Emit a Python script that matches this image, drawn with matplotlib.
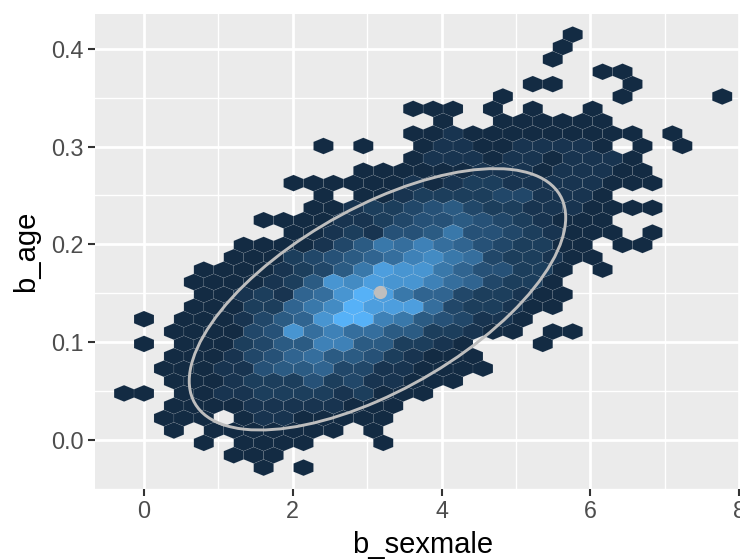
#!/usr/bin/env python3
"""Hexbin of b_age against b_sexmale, with an ellipse and a point on top."""

import matplotlib
matplotlib.use("Agg")
import matplotlib.pyplot as plt
import numpy as np
from matplotlib.colors import LinearSegmentedColormap
from matplotlib.patches import Ellipse
from matplotlib.transforms import Affine2D

plt.rcParams["font.family"] = ["Liberation Sans", "DejaVu Sans"]

# hex grid: column pitch in b_sexmale, row pitch in b_age
HEX_DX = 0.268
ROW_DY = 0.012665
TOP_ROW_AGE = 0.41465

# one entry per hex row, top to bottom: first column, then counts (0 = no hex)
first_col = [21, 21, 20, 23, 19, 18, 13, 15, 13, 9, 13, 11, 7, 9, 8, 6, 7, 5,
             4, 3, 2, 3, 2, 0, 1, 0, 1, 1, 1, -1, 1, 1, 1, 3, 4, 6]
row_counts = [
    [1],
    [1],
    [1],
    [1, 1],
    [1, 1, 0, 0, 0, 1],
    [1, 0, 0, 0, 0, 0, 1, 0, 0, 0, 0, 1],
    [1, 1, 1, 0, 1, 0, 1, 0, 0, 1],
    [1, 0, 0, 1, 1, 1, 1, 1, 1],
    [1, 1, 2, 1, 1, 1, 1, 1, 1, 1, 1, 1, 0, 1],
    [1, 0, 1, 0, 0, 1, 2, 2, 1, 1, 2, 2, 2, 2, 1, 0, 1, 0, 1],
    [1, 2, 2, 2, 1, 2, 2, 1, 2, 2, 2, 1],
    [1, 1, 1, 1, 1, 1, 2, 2, 2, 1, 2, 2, 2, 1, 1],
    [1, 1, 1, 1, 1, 1, 2, 1, 2, 3, 3, 2, 2, 2, 2, 2, 1, 1, 1],
    [1, 0, 1, 1, 2, 3, 3, 3, 3, 4, 4, 2, 2, 2, 1],
    [1, 1, 2, 3, 3, 4, 5, 6, 4, 3, 3, 2, 2, 2, 1, 1, 1, 1],
    [1, 1, 1, 1, 2, 2, 3, 4, 5, 5, 6, 5, 4, 3, 2, 1, 1, 1],
    [1, 1, 2, 3, 2, 5, 5, 6, 9, 5, 5, 4, 3, 2, 1, 1, 1, 0, 1],
    [1, 1, 1, 1, 2, 4, 6, 9, 8, 10, 8, 7, 5, 4, 3, 3, 1, 1, 0, 1, 1],
    [1, 1, 1, 3, 4, 5, 6, 7, 8, 10, 11, 9, 8, 4, 3, 3, 2, 1, 1],
    [1, 1, 1, 1, 2, 3, 4, 6, 9, 13, 12, 12, 9, 7, 5, 5, 3, 3, 1, 0, 1],
    [1, 1, 1, 1, 2, 3, 6, 12, 11, 13, 12, 12, 10, 8, 7, 4, 3, 3, 1],
    [1, 1, 2, 3, 2, 7, 8, 12, 19, 13, 9, 7, 7, 4, 3, 3, 2, 1, 1],
    [1, 1, 1, 3, 3, 7, 9, 11, 20, 13, 13, 13, 8, 4, 3, 3, 2, 1, 1],
    [1, 0, 1, 1, 1, 2, 4, 6, 7, 12, 16, 19, 10, 9, 6, 5, 4, 2, 2, 1],
    [1, 1, 1, 1, 4, 5, 12, 8, 10, 8, 8, 6, 6, 3, 3, 2, 1, 1, 0, 1, 1],
    [1, 0, 1, 1, 1, 3, 4, 6, 6, 10, 10, 6, 6, 3, 3, 2, 1, 0, 0, 0, 1],
    [1, 1, 1, 2, 4, 5, 7, 8, 6, 6, 5, 3, 2, 1, 1, 1],
    [1, 1, 1, 2, 2, 5, 6, 6, 7, 4, 4, 2, 2, 1, 1, 1, 1],
    [1, 1, 1, 2, 3, 3, 3, 5, 3, 4, 2, 2, 1, 1, 1],
    [1, 1, 0, 1, 1, 2, 2, 3, 3, 3, 3, 2, 3, 1, 1, 1],
    [1, 1, 1, 1, 2, 2, 2, 2, 2, 1, 1, 1],
    [1, 1, 1, 0, 1, 2, 2, 1, 1, 1, 1, 1],
    [1, 0, 1, 1, 1, 1, 1, 1, 1, 0, 1],
    [1, 0, 1, 1, 1, 1, 0, 0, 0, 1],
    [1, 1, 1],
    [1, 0, 1],
]

# ellipse summary and the point estimate
ellipse_center = (3.138, 0.1437)
ellipse_half_x = 2.53
ellipse_half_y = 0.1338
ellipse_rho = 0.625
point_x = [3.17]
point_y = [0.1512]

x_ticks = [0, 2, 4, 6, 8]
x_minor = [1, 3, 5, 7]
y_ticks = [0.0, 0.1, 0.2, 0.3, 0.4]
y_minor = [-0.05, 0.05, 0.15, 0.25, 0.35]
y_tick_labels = ["0.0", "0.1", "0.2", "0.3", "0.4"]

GREY = "#BEBEBE"
cmap = LinearSegmentedColormap.from_list("gg", ["#132B43", "#56B1F7"])

W, H = 740, 559
fig = plt.figure(figsize=(W / 100, H / 100), dpi=100)
ax = fig.add_axes([94.5 / W, (H - 489) / H, (741 - 94.5) / W, 475 / H])
ax.set_facecolor("#EBEBEB")
for s in ax.spines.values():
    s.set_visible(False)

# rows alternate: odd rows sit on the tick columns, even rows half a step over
xs, ys, cs = [], [], []
for n, (first, counts) in enumerate(zip(first_col, row_counts)):
    for k, c in enumerate(counts, start=first):
        if c:
            xs.append(HEX_DX * (k + (0.0 if n % 2 else 0.5)))
            ys.append(TOP_ROW_AGE - ROW_DY * n)
            cs.append(c)

nx, ny = 34, 20
sy = 2 * ROW_DY
x0 = -2 * HEX_DX
y0 = TOP_ROW_AGE - ROW_DY * 35 - sy
ax.hexbin(xs, ys, C=cs, gridsize=(nx, ny), reduce_C_function=np.sum,
          extent=(x0, x0 + nx * HEX_DX, y0, y0 + ny * sy),
          cmap=cmap, vmin=1, vmax=15,
          edgecolors=(1, 1, 1, 0.14), linewidths=0.35)

# unit circle pushed through the covariance shape
shape = Affine2D(np.array([
    [ellipse_half_x, 0, ellipse_center[0]],
    [ellipse_rho * ellipse_half_y,
     ellipse_half_y * np.sqrt(1 - ellipse_rho ** 2), ellipse_center[1]],
    [0, 0, 1],
]))
ax.add_patch(Ellipse((0, 0), 2, 2, fill=False, edgecolor=GREY, linewidth=2.1,
                     transform=shape + ax.transData, zorder=3))
ax.plot(point_x, point_y, "o", color=GREY, ms=9.5, mew=0, zorder=4)

ax.set_xlim((94.5 - 144) / 74.4, (741 - 144) / 74.4)
ax.set_ylim(-0.0505, 0.4358)
ax.set_xticks(x_ticks)
ax.set_xticks(x_minor, minor=True)
ax.set_yticks(y_ticks, labels=y_tick_labels)
ax.set_yticks(y_minor, minor=True)
ax.set_axisbelow(True)
ax.grid(True, which="major", color="white", lw=2.0)
ax.grid(True, which="minor", color="white", lw=1.0)
ax.tick_params(which="major", length=5, width=1.5, color="#333333",
               labelcolor="#4D4D4D", labelsize=16.8, pad=3)
ax.tick_params(which="minor", length=0)
ax.set_xlabel("b_sexmale", fontsize=21, color="black", labelpad=6, x=0.507)
ax.set_ylabel("b_age", fontsize=21, color="black", labelpad=8)

fig.savefig("out.png", dpi=100)
